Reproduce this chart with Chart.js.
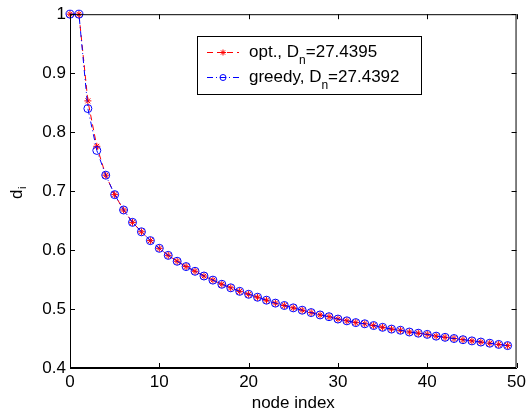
<!DOCTYPE html>
<html>
<head>
<meta charset="utf-8">
<script src="https://cdn.jsdelivr.net/npm/chart.js@4/dist/chart.umd.min.js"></script>
<style>
  html, body { margin: 0; padding: 0; background: #fff; }
  #wrap { width: 530px; height: 414px; }
</style>
</head>
<body>
<div id="wrap"><canvas id="chart" width="530" height="414"></canvas></div>
<script>
// node index 0..49
const nodeIndex = [0,1,2,3,4,5,6,7,8,9,10,11,12,13,14,15,16,17,18,19,20,21,22,23,24,
  25,26,27,28,29,30,31,32,33,34,35,36,37,38,39,40,41,42,43,44,45,46,47,48,49];

const optValues = [1,1,0.853,0.776,0.727,0.694,0.668,0.647,0.631,0.616,0.603,0.591,0.581,0.572,
  0.564,0.556,0.549,0.542,0.536,0.530,0.525,0.520,0.515,0.510,0.506,0.502,0.498,0.494,0.490,
  0.487,0.483,0.480,0.477,0.475,0.472,0.469,0.466,0.464,0.461,0.459,0.457,0.454,0.452,0.450,
  0.448,0.446,0.444,0.442,0.440,0.438];

const greedyValues = [1,1,0.840,0.769,0.727,0.694,0.668,0.647,0.631,0.616,0.603,0.591,0.581,0.572,
  0.564,0.556,0.549,0.542,0.536,0.530,0.525,0.520,0.515,0.510,0.506,0.502,0.498,0.494,0.490,
  0.487,0.483,0.480,0.477,0.475,0.472,0.469,0.466,0.464,0.461,0.459,0.457,0.454,0.452,0.450,
  0.448,0.446,0.444,0.442,0.440,0.438];

const xTicks = [0,10,20,30,40,50];
const yTicks = [0.4,0.5,0.6,0.7,0.8,0.9,1];

// legend text: [before subscript, subscript, after]
const optLabel = ['opt., D', 'n', '=27.4395'];
const greedyLabel = ['greedy, D', 'n', '=27.4392'];

const FONT = '"Liberation Sans", Arial, sans-serif';
const FS = 17;

const toPts = (ys) => ys.map((y, i) => ({ x: nodeIndex[i], y: y }));

// box, inward ticks, y title, legend
const matlabAxes = {
  id: 'matlabAxes',
  afterDraw(chart) {
    const ctx = chart.ctx;
    const a = chart.chartArea;
    const xs = chart.scales.x, ys = chart.scales.y;
    const tl = 5;
    ctx.save();
    ctx.strokeStyle = '#000';
    ctx.lineWidth = 1;
    ctx.beginPath();
    ctx.rect(a.left + 0.5, a.top + 0.5, a.right - a.left - 1, a.bottom - a.top - 1);
    xTicks.forEach(v => {
      const px = Math.round(xs.getPixelForValue(v)) + 0.5;
      ctx.moveTo(px, a.bottom); ctx.lineTo(px, a.bottom - tl);
      ctx.moveTo(px, a.top); ctx.lineTo(px, a.top + tl);
    });
    yTicks.forEach(v => {
      const py = Math.round(ys.getPixelForValue(v)) + 0.5;
      ctx.moveTo(a.left, py); ctx.lineTo(a.left + tl, py);
      ctx.moveTo(a.right, py); ctx.lineTo(a.right - tl, py);
    });
    ctx.stroke();

    // y title d_i
    ctx.fillStyle = '#000';
    ctx.translate(22, (a.top + a.bottom) / 2 + 2);
    ctx.rotate(-Math.PI / 2);
    ctx.font = FS + 'px ' + FONT;
    ctx.textBaseline = 'alphabetic';
    ctx.textAlign = 'left';
    ctx.fillText('d', -6, 0);
    ctx.font = '11px ' + FONT;
    ctx.fillText('i', 4, 4);
    ctx.restore();

    // legend
    ctx.save();
    const bx = 197.5, by = 36.5, bw = 224, bh = 58;
    ctx.fillStyle = '#fff';
    ctx.fillRect(bx, by, bw, bh);
    ctx.strokeStyle = '#000';
    ctx.lineWidth = 1;
    ctx.strokeRect(bx, by, bw, bh);
    const rows = [
      { ds: chart.data.datasets[0], label: optLabel, y: 52 },
      { ds: chart.data.datasets[1], label: greedyLabel, y: 77 }
    ];
    rows.forEach(r => {
      ctx.save();
      ctx.strokeStyle = r.ds.borderColor;
      ctx.lineWidth = r.ds.borderWidth;
      ctx.setLineDash(r.ds.borderDash);
      ctx.beginPath();
      ctx.moveTo(207, r.y + 0.5); ctx.lineTo(239, r.y + 0.5);
      ctx.stroke();
      ctx.setLineDash([]);
      ctx.strokeStyle = r.ds.pointBorderColor;
      ctx.fillStyle = r.ds.pointBackgroundColor;
      ctx.lineWidth = r.ds.pointBorderWidth;
      Chart.helpers.drawPoint(ctx, {
        pointStyle: r.ds.pointStyle, radius: 3,
        borderWidth: r.ds.pointBorderWidth, rotation: 0
      }, 223, r.y + 0.5);
      ctx.restore();
      ctx.fillStyle = '#000';
      ctx.textBaseline = 'middle';
      ctx.textAlign = 'left';
      ctx.font = FS + 'px ' + FONT;
      let tx = 249;
      ctx.fillText(r.label[0], tx, r.y);
      tx += ctx.measureText(r.label[0]).width;
      ctx.font = '12px ' + FONT;
      ctx.fillText(r.label[1], tx, r.y + 9);
      tx += ctx.measureText(r.label[1]).width;
      ctx.font = FS + 'px ' + FONT;
      ctx.fillText(r.label[2], tx, r.y);
    });
    ctx.restore();
  }
};

const optDs = {
  label: 'opt.',
  data: toPts(optValues),
  borderColor: '#ff0000',
  backgroundColor: '#ff0000',
  borderWidth: 1,
  borderDash: [6, 4],
  pointStyle: 'star',
  pointRadius: 3.5,
  pointBorderWidth: 1,
  pointBorderColor: '#ff0000',
  pointBackgroundColor: '#ff0000',
  fill: false,
  tension: 0,
  order: 2
};

const greedyDs = {
  label: 'greedy',
  data: toPts(greedyValues),
  borderColor: '#0000ff',
  backgroundColor: '#0000ff',
  borderWidth: 1,
  borderDash: [6, 3, 1, 3],
  pointStyle: 'circle',
  pointRadius: 4,
  pointBorderWidth: 1,
  pointBorderColor: '#0000ff',
  pointBackgroundColor: 'rgba(0,0,0,0)',
  fill: false,
  tension: 0,
  order: 1
};

const config = {
  type: 'line',
  data: { datasets: [optDs, greedyDs] },
  options: {
    responsive: false,
    animation: false,
    clip: false,
    layout: { padding: { top: 13, right: 10, left: 0, bottom: 0 } },
    plugins: { legend: { display: false }, tooltip: { enabled: false } },
    scales: {
      x: {
        type: 'linear',
        min: 0, max: 50,
        grid: { display: false, drawTicks: false },
        border: { display: true, color: '#000', width: 1 },
        afterBuildTicks: s => { s.ticks = xTicks.map(v => ({ value: v })); },
        afterFit: s => { s.height = 46; },
        ticks: {
          padding: 4,
          color: '#000',
          font: { family: FONT, size: FS },
          maxRotation: 0,
          callback: v => String(v)
        },
        title: {
          display: true,
          text: 'node index',
          color: '#000',
          font: { family: FONT, size: FS },
          padding: { top: -3, bottom: 0 }
        }
      },
      y: {
        type: 'linear',
        min: 0.4, max: 1,
        grid: { display: false, drawTicks: false },
        border: { display: true, color: '#000', width: 1 },
        afterBuildTicks: s => { s.ticks = yTicks.map(v => ({ value: v })); },
        afterFit: s => { s.width = 70; },
        ticks: {
          padding: 4,
          color: '#000',
          font: { family: FONT, size: FS },
          callback: v => String(Math.round(v * 10) / 10)
        }
      }
    }
  },
  plugins: [matlabAxes]
};

const chart = new Chart(document.getElementById('chart'), config);
</script>
</body>
</html>
